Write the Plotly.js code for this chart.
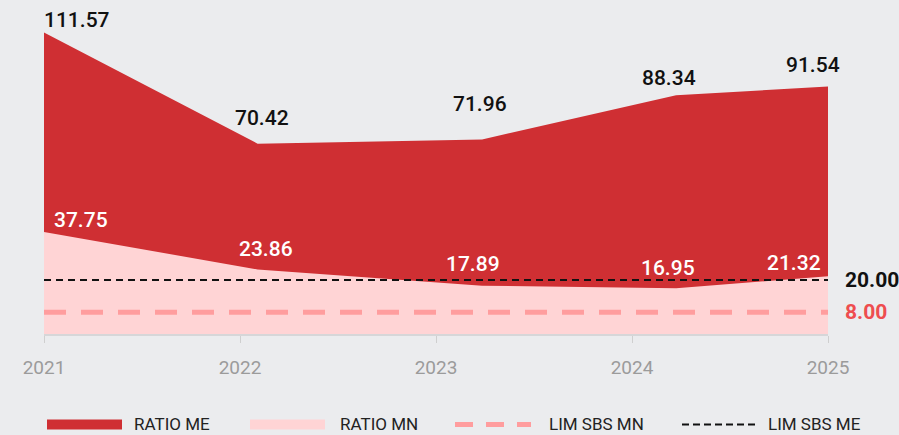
<!DOCTYPE html>
<html>
<head>
<meta charset="utf-8">
<script src="https://cdn.plot.ly/plotly-3.0.1.min.js"></script>
<style>
html,body{margin:0;padding:0;background:#ebecee;}
#chart{width:899px;height:435px;}
</style>
</head>
<body>
<div id="chart"></div>
<script>
// ---- data ----
const periods = [2021.0, 2022.09, 2023.235, 2024.225, 2025.0];
const tickYears = [2021, 2022, 2023, 2024, 2025];
const tickLabels = ['2021', '2022', '2023', '2024', '2025'];
const ratioME = [111.57, 70.42, 71.96, 88.34, 91.54];
const ratioMN = [37.75, 23.86, 17.89, 16.95, 21.32];
const limSbsMN = [8, 8, 8, 8, 8];
const limSbsME = [20, 20, 20, 20, 20];
const seriesNames = ['RATIO ME', 'RATIO MN', 'LIM SBS MN', 'LIM SBS ME'];

// ---- styles ----
const RED = '#cf2f33', PINK = '#ffd4d5', PINKDASH = '#ff9d9e', BG = '#ebecee';
const FONT = 'Roboto, "Liberation Sans", sans-serif';
const W = 899, H = 435;
const M = {l: 44, r: 71, t: 15, b: 101};
const pw = W - M.l - M.r, ph = H - M.t - M.b;
const px2x = px => (px - M.l) / pw;
const py2y = py => (H - M.b - py) / ph;

const traces = [
  {x: periods, y: ratioME, type: 'scatter', mode: 'lines', fill: 'tozeroy',
   fillcolor: RED, line: {width: 0, color: RED}, name: seriesNames[0], showlegend: false},
  {x: periods, y: ratioMN, type: 'scatter', mode: 'lines', fill: 'tozeroy',
   fillcolor: PINK, line: {width: 0, color: PINK}, name: seriesNames[1], showlegend: false},
  {x: periods, y: limSbsMN, type: 'scatter', mode: 'lines',
   line: {width: 5, color: PINKDASH, dash: '22px,15px'}, name: seriesNames[2], showlegend: false},
  {x: periods, y: limSbsME, type: 'scatter', mode: 'lines',
   line: {width: 2, color: '#111111', dash: '7px,5px'}, name: seriesNames[3], showlegend: false}
];

const annotations = [];
// value label offsets (pixel shifts, styling only)
const meShift = [[33, 12], [4, 26], [-2, 35], [-7, 17], [-15, 22]];
const mnShift = [[37, 12], [8, 21], [-9, 22], [-8, 20], [-34, 13]];
ratioME.forEach((v, i) => annotations.push({
  x: periods[i], y: v, text: v.toFixed(2), showarrow: false,
  xanchor: 'center', yanchor: 'middle', xshift: meShift[i][0], yshift: meShift[i][1],
  font: {family: FONT, size: 21, color: '#111111', weight: 500}
}));
ratioMN.forEach((v, i) => annotations.push({
  x: periods[i], y: v, text: v.toFixed(2), showarrow: false,
  xanchor: 'center', yanchor: 'middle', xshift: mnShift[i][0], yshift: mnShift[i][1],
  font: {family: FONT, size: 21, color: '#ffffff', weight: 500}
}));
const last = periods.length - 1;
annotations.push({x: periods[last], y: limSbsME[last], text: limSbsME[last].toFixed(2),
  showarrow: false, xanchor: 'left', yanchor: 'middle', xshift: 15,
  font: {family: FONT, size: 21, color: '#111111', weight: 'bold'}});
annotations.push({x: periods[last], y: limSbsMN[last], text: limSbsMN[last].toFixed(2),
  showarrow: false, xanchor: 'left', yanchor: 'middle', xshift: 15,
  font: {family: FONT, size: 21, color: '#ee4d4f', weight: 'bold'}});

// ---- custom legend ----
const legY = 424.5;
const legend = [
  {x0: 47, x1: 122, tx: 132, kind: 'rect', color: RED},
  {x0: 250, x1: 325, tx: 338, kind: 'rect', color: PINK},
  {x0: 455, x1: 531, tx: 547, kind: 'dash', color: PINKDASH, width: 5, dash: '18px,13px'},
  {x0: 682, x1: 757, tx: 766, kind: 'dash', color: '#111111', width: 2, dash: '7px,4px'}
];
const shapes = [];
legend.forEach((it, i) => {
  if (it.kind === 'rect') {
    shapes.push({type: 'rect', xref: 'paper', yref: 'paper',
      x0: px2x(it.x0), x1: px2x(it.x1), y0: py2y(legY - 5), y1: py2y(legY + 5),
      fillcolor: it.color, line: {width: 0}});
  } else {
    shapes.push({type: 'line', xref: 'paper', yref: 'paper',
      x0: px2x(it.x0), x1: px2x(it.x1), y0: py2y(legY), y1: py2y(legY),
      line: {color: it.color, width: it.width, dash: it.dash}});
  }
  annotations.push({xref: 'paper', yref: 'paper', x: px2x(it.tx), y: py2y(legY),
    text: seriesNames[i], showarrow: false, xanchor: 'left', yanchor: 'middle',
    font: {family: FONT, size: 17, color: '#222222'}});
});

const layout = {
  width: W, height: H,
  margin: M,
  paper_bgcolor: BG, plot_bgcolor: BG,
  showlegend: false,
  hovermode: false,
  xaxis: {
    type: 'linear', range: [2021, 2025], tickmode: 'array',
    tickvals: tickYears, ticktext: tickLabels,
    showgrid: false, zeroline: false,
    showline: true, linecolor: '#d6d6d8', linewidth: 2,
    ticks: 'outside', ticklen: 7, tickcolor: '#cfcfcf', tickwidth: 1,
    ticklabelstandoff: 8,
    tickfont: {family: FONT, size: 19, color: '#9b9b9b'}
  },
  yaxis: {
    range: [0, 118], showgrid: false, zeroline: false,
    showticklabels: false, showline: false, ticks: ''
  },
  annotations: annotations,
  shapes: shapes
};

Plotly.newPlot('chart', traces, layout, {staticPlot: true, displayModeBar: false});
</script>
</body>
</html>
